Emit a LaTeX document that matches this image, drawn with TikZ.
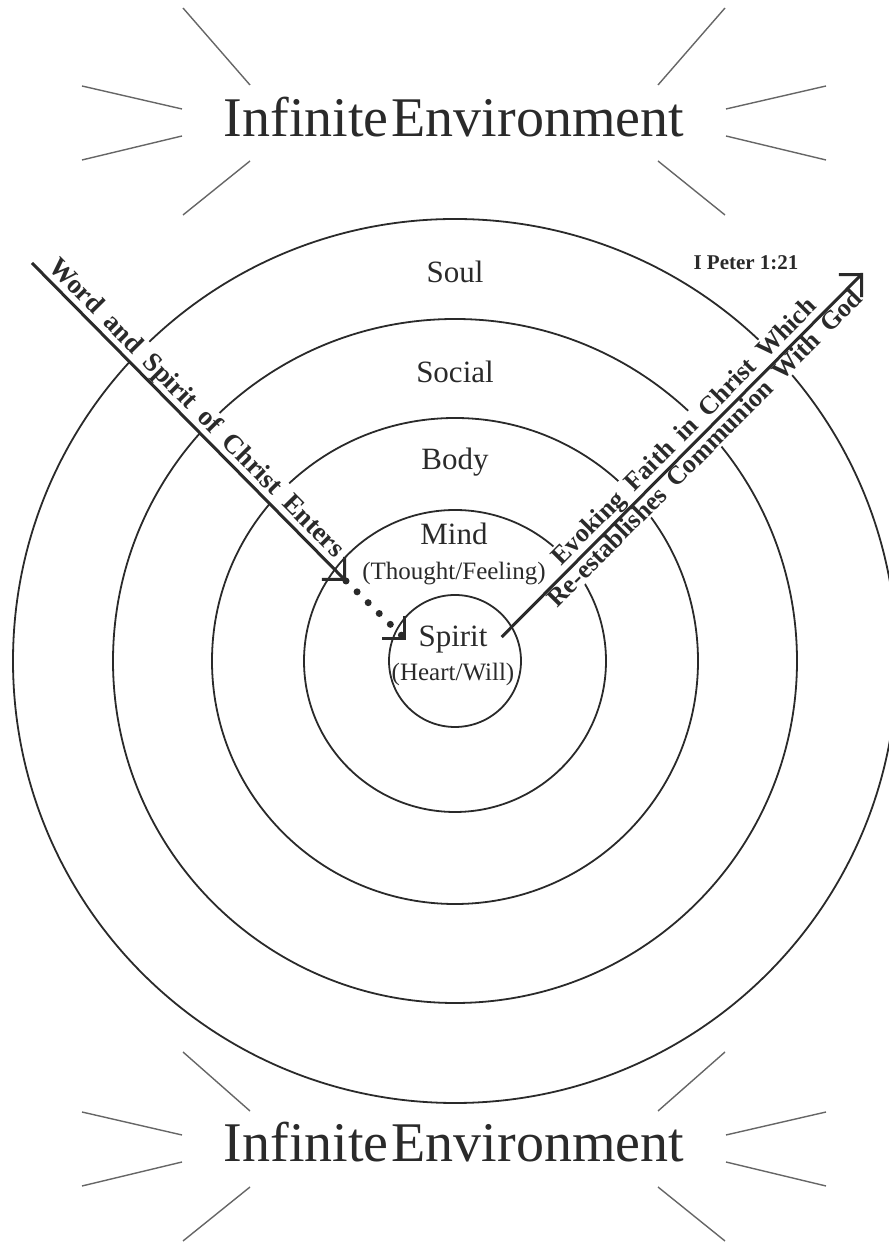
\documentclass[tikz,border=0pt]{standalone}
\usepackage{fontspec}
\setmainfont{Liberation Serif}
\usepackage{tikz}
\usetikzlibrary{arrows.meta, calc}
\definecolor{ink}{HTML}{2A2A2A}
\definecolor{ray-gray}{HTML}{666666}

\begin{document}
\begin{tikzpicture}[
    x=1pt, y=1pt,
    ring/.style={draw=ink, line width=1.8pt},
    ray/.style={draw=ray-gray, line width=1.4pt},
    title/.style={font=\fontsize{56}{60}\selectfont, text=ink, anchor=base, inner sep=0pt},
    lbl/.style={font=\fontsize{31}{34}\selectfont, text=ink, anchor=base, inner sep=0pt},
    sublbl/.style={font=\fontsize{25}{28}\selectfont, text=ink, anchor=base, inner sep=0pt},
    along/.style={font=\bfseries\fontsize{26}{30}\selectfont,
      execute at begin node={\spaceskip=0.45em\relax},
      text=ink, fill=white, inner sep=1.5pt, sloped},
    flow/.style={draw=ink, line width=3pt, -{Straight Barb[length=16pt, width=32pt]}},
    dots/.style={draw=ink, line width=7pt, line cap=round, dash pattern=on 0pt off 15.5pt}
  ]

  \useasboundingbox (0,0) rectangle (889,1243);

  % environment titles and their rays
  \node[title] (envtop) at (454,1106) {Infinite\hspace{0.05em}Environment};
  \node[title] (envbot) at (454,81) {Infinite\hspace{0.05em}Environment};
  \coordinate (raytop) at ($(envtop.base)+(0,14)$);
  \coordinate (raybot) at ($(envbot.base)+(0,13)$);

  \foreach \ctr/\up in {raytop/115, raybot/97} {
    \foreach \s in {-1,1} {
      \draw[ray] ($(\ctr)+(\s*204,38)$) -- ($(\ctr)+(\s*271,\up)$);
      \draw[ray] ($(\ctr)+(\s*272,14)$) -- ($(\ctr)+(\s*372,37)$);
      \draw[ray] ($(\ctr)+(\s*272,-13)$) -- ($(\ctr)+(\s*372,-37)$);
      \draw[ray] ($(\ctr)+(\s*204,-38)$) -- ($(\ctr)+(\s*271,-92)$);
    }
  }

  % rings
  \coordinate (core) at (455,582);
  \foreach \r in {66,151,243,342,442}
    \draw[ring] (core) circle[radius=\r];

  % ring labels
  \node[lbl] (soul) at (455,960) {Soul};
  \node[lbl] (social) at (455,860) {Social};
  \node[lbl] (body) at (455,773) {Body};
  \node[lbl] (mind) at (454,698) {Mind};
  \node[sublbl] (mindsub) at (454,663) {(Thought/Feeling)};
  \node[lbl] (spirit) at (453,596) {Spirit};
  \node[sublbl] (spiritsub) at (453,562) {(Heart/Will)};
  \node[lbl, font=\bfseries\fontsize{21}{24}\selectfont] (peter) at (746,973) {I Peter 1:21};

  % arrow ends
  \coordinate (wordstart) at (32,980);
  \coordinate (wordtip) at (346,662);
  \coordinate (spirittip) at ($(spirit.west)+(-12,0)$);
  \coordinate (faithstart) at ($(spirit.east)+(14,3)$);
  \coordinate (faithtip) at (863,970);

  % arrow texts
  \path (wordstart) -- (wordtip)
    node[along, above, pos=0.49, font=\bfseries\fontsize{27}{30}\selectfont] (wordtext)
      {Word and Spirit of Christ Enters};
  \path (faithstart) -- (faithtip)
    node[along, above, pos=0.535] (faithtext) {Evoking Faith in Christ Which}
    node[along, below, pos=0.54] (commtext) {Re-establishes Communion With God};

  % arrows
  \draw[flow] (wordstart) -- (wordtip);
  \draw[dots] (wordtip) -- (spirittip);
  \draw[flow] ($(spirittip)+(135:6)$) -- (spirittip);
  \draw[flow] (faithstart) -- (faithtip);

\end{tikzpicture}
\end{document}
